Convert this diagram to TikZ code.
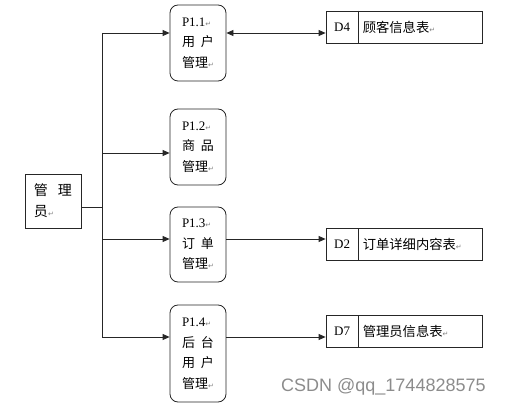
\documentclass[tikz,border=0pt]{standalone}
\usepackage{fontspec}
\setmainfont{Liberation Serif}
\newfontfamily\cjk{Noto Sans CJK SC}
\newfontfamily\symf{DejaVu Sans}
\newfontfamily\wmfont{Liberation Sans}
\usetikzlibrary{arrows.meta}
\newcommand{\parmk}{{\symf\fontsize{7}{7}\selectfont\textcolor{gray}{↵}}}
\tikzset{
  line/.style={draw=black!85, line width=0.8pt},
  arr/.style={line, -{Triangle[length=7pt,width=6pt]}},
  darr/.style={line, {Triangle[length=7pt,width=6pt]}-{Triangle[length=7pt,width=6pt]}},
  proc/.style={draw=black!85, line width=0.8pt, rounded corners=8pt, minimum width=56pt,
    align=left, inner sep=0pt, font=\fontsize{13}{20.5}\selectfont},
  ent/.style={draw=black!85, line width=0.8pt, minimum width=56pt, minimum height=54pt,
    align=left, inner sep=0pt, font=\fontsize{14}{21}\selectfont},
  store/.style={draw=black!85, line width=0.8pt, minimum width=156pt, minimum height=32pt, inner sep=0pt},
  stlab/.style={font=\fontsize{13}{14}\selectfont, inner sep=0pt},
  sttxt/.style={font=\cjk\fontsize{13.3}{14}\selectfont, inner sep=0pt, anchor=west},
}
\begin{document}
\begin{tikzpicture}[x=1pt,y=-1pt]
\useasboundingbox (0,0) rectangle (506,406);
% entity
\node[ent] (admin) at (53,201) {{\cjk 管\hspace{10pt}理}\\{\cjk 员}\parmk};
% processes
\node[proc, minimum height=76pt] (p1) at (198,43) {P1.1\parmk\\{\cjk 用\hspace{6pt}户}\\{\cjk 管理}\parmk};
\node[proc, minimum height=76pt] (p2) at (198,147) {P1.2\parmk\\{\cjk 商\hspace{6pt}品}\\{\cjk 管理}\parmk};
\node[proc, minimum height=75pt] (p3) at (198,244.5) {P1.3\parmk\\{\cjk 订\hspace{6pt}单}\\{\cjk 管理}\parmk};
\node[proc, minimum height=97pt] (p4) at (198,353.5) {P1.4\parmk\\{\cjk 后\hspace{6pt}台}\\{\cjk 用\hspace{6pt}户}\\{\cjk 管理}\parmk};
% stores
\node[store] (d4) at (404,27) {};
\node[store] (d2) at (404,244.5) {};
\node[store] (d7) at (404,331.5) {};
\foreach \d/\n/\t in {d4/D4/顾客信息表, d2/D2/订单详细内容表, d7/D7/管理员信息表}{
  \draw[line] ([xshift=33pt]\d.north west) -- ([xshift=33pt]\d.south west);
  \node[stlab] (\d lab) at ([xshift=16.5pt]\d.west) {\n};
  \node[sttxt] (\d txt) at ([xshift=37pt]\d.west) {\t\parmk};
}
% trunk
\coordinate (t1) at (102,33);
\coordinate (t2) at (102,153);
\coordinate (t3) at (102,239);
\coordinate (t4) at (102,337);
\coordinate (j) at (102,207);
\draw[line] (admin.east |- j) -- (j);
\draw[line] (t1) -- (t4);
\draw[arr] (t1) -- (p1.west |- t1);
\draw[arr] (t2) -- (p2.west |- t2);
\draw[arr] (t3) -- (p3.west |- t3);
\draw[arr] (t4) -- (p4.west |- t4);
% to stores
\draw[darr] (p1.east |- t1) -- (d4.west |- t1);
\draw[arr] (p3.east |- t3) -- (d2.west |- t3);
\draw[arr] (p4.east |- t4) -- (d7.west |- t4);
% watermark
\node[anchor=west, inner sep=0pt, text=black!45, font=\wmfont\fontsize{18}{20}\selectfont] (wm) at (281,387) {CSDN @qq\_1744828575};
\end{tikzpicture}
\end{document}
